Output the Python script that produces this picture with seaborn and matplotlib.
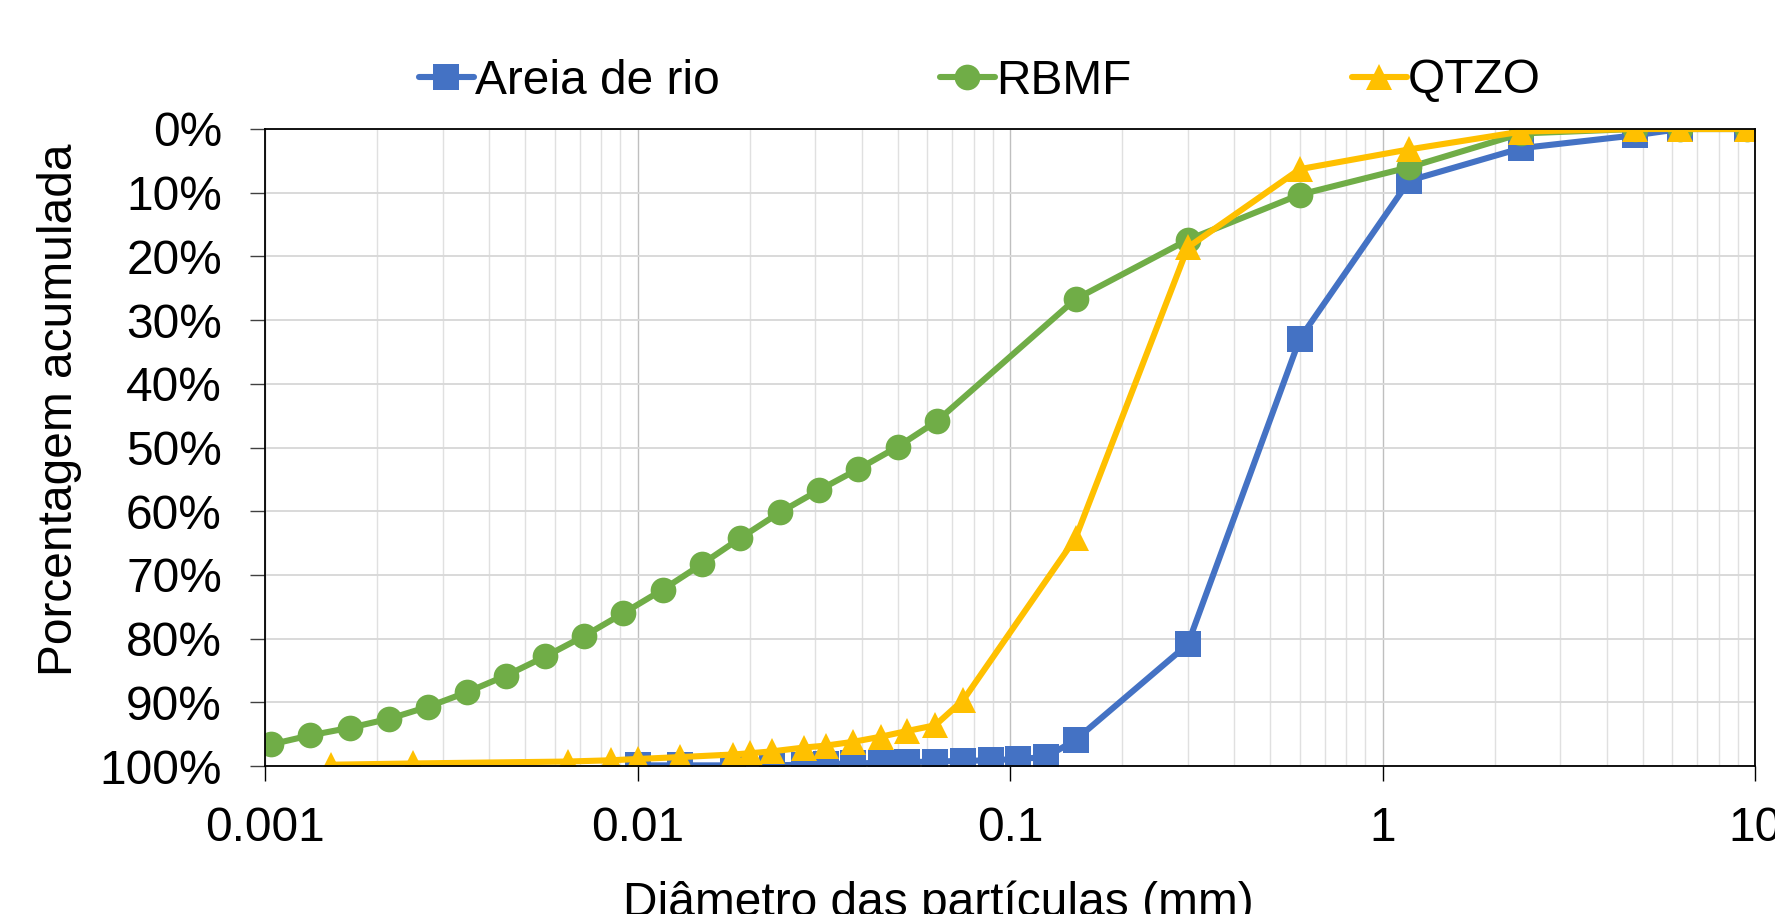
"""
Curva granulométrica: porcentagem acumulada x diâmetro das partículas
"""

import numpy as np
import pandas as pd
import matplotlib
matplotlib.use('Agg')
import matplotlib.pyplot as plt
import seaborn as sns
from matplotlib.ticker import FixedLocator, FixedFormatter, PercentFormatter

# diâmetros (mm) e porcentagem acumulada (%) de cada material
areia_d = [0.01, 0.013, 0.018, 0.023, 0.028, 0.032, 0.038, 0.045, 0.053, 0.063,
           0.075, 0.089, 0.105, 0.125, 0.15, 0.3, 0.6, 1.18, 2.36, 4.75, 6.3, 9.5]
areia_p = [99.9, 99.9, 99.9, 99.9, 99.8, 99.7, 99.6, 99.5, 99.4, 99.3,
           99.2, 99.1, 98.9, 98.6, 95.9, 80.9, 32.9, 8.1, 3.0, 1.0, 0.0, 0.0]

rbmf_d = [0.00104, 0.00132, 0.00169, 0.00215, 0.00274, 0.00349, 0.00444, 0.00566,
          0.00719, 0.00917, 0.0117, 0.0149, 0.0189, 0.0241, 0.0307, 0.0391, 0.0499,
          0.0635, 0.15, 0.3, 0.6, 1.18, 2.36, 4.75, 6.3, 9.5]
rbmf_p = [96.6, 95.2, 94.0, 92.6, 90.7, 88.4, 85.8, 82.8,
          79.6, 76.0, 72.3, 68.3, 64.2, 60.2, 56.7, 53.4, 49.9,
          45.9, 26.7, 17.4, 10.3, 6.0, 0.7, 0.0, 0.0, 0.0]

qtzo_d = [0.0015, 0.0025, 0.0065, 0.0085, 0.01, 0.013, 0.018, 0.02, 0.023, 0.028,
          0.032, 0.038, 0.045, 0.053, 0.063, 0.075, 0.15, 0.3, 0.6, 1.18, 2.36,
          4.75, 6.3, 9.5]
qtzo_p = [99.8, 99.6, 99.3, 99.1, 98.9, 98.6, 98.2, 98.0, 97.7, 97.1,
          96.8, 96.2, 95.4, 94.5, 93.6, 89.6, 64.2, 18.6, 6.3, 3.2, 0.4,
          0.0, 0.0, 0.0]

x_ticks = [0.001, 0.01, 0.1, 1, 10]
x_tick_labels = ['0.001', '0.01', '0.1', '1', '10']

series = [
    ('Areia de rio', areia_d, areia_p, '#4472C4', 's'),
    ('RBMF', rbmf_d, rbmf_p, '#70AD47', 'o'),
    ('QTZO', qtzo_d, qtzo_p, '#FFC000', '^'),
]

sns.set_style('white')
plt.rcParams['font.family'] = ['Liberation Sans', 'DejaVu Sans']
plt.rcParams['text.color'] = 'black'
plt.rcParams['axes.labelcolor'] = 'black'
plt.rcParams['xtick.color'] = 'black'
plt.rcParams['ytick.color'] = 'black'
FS = 34.5

fig = plt.figure(figsize=(17.75, 9.14), dpi=100)
ax = fig.add_axes([265 / 1775, 1 - 766 / 914, 1490 / 1775, 637 / 914])

for name, d, p, cor, mk in series:
    df = pd.DataFrame({'d': d, 'p': np.array(p) / 100})
    sns.lineplot(data=df, x='d', y='p', ax=ax, color=cor, marker=mk,
                 markersize=18.5, markeredgecolor=cor, markeredgewidth=0,
                 linewidth=4.4, label=name, errorbar=None, sort=False)

ax.set_xscale('log')
ax.set_xlim(0.001, 10)
ax.set_ylim(1, 0)

ax.xaxis.set_major_locator(FixedLocator(x_ticks))
ax.xaxis.set_major_formatter(FixedFormatter(x_tick_labels))
ax.xaxis.set_minor_locator(FixedLocator(
    [m * 10.0 ** e for e in range(-3, 1) for m in range(2, 10)]))
ax.yaxis.set_major_locator(FixedLocator(np.linspace(0, 1, 11)))
ax.yaxis.set_major_formatter(PercentFormatter(1, decimals=0))

ax.grid(which='minor', axis='x', color='#e0e0e0', linewidth=1.0)
ax.grid(which='major', axis='x', color='#bfbfbf', linewidth=1.0)
ax.grid(which='major', axis='y', color='#d9d9d9', linewidth=1.4)
ax.set_axisbelow(True)

for s in ax.spines.values():
    s.set_visible(True)
    s.set_color('black')
    s.set_linewidth(1.3)

ax.tick_params(axis='x', which='major', direction='out', length=11, width=1,
               color='black', labelsize=FS, pad=18, bottom=True)
ax.tick_params(axis='x', which='minor', length=0)
ax.tick_params(axis='y', direction='out', length=11, width=1, color='#404040',
               labelsize=FS, pad=20, left=True)

ax.set_xlabel('Diâmetro das partículas (mm)', fontsize=FS)
ax.xaxis.set_label_coords(0.452, -0.18)
ax.set_ylabel('Porcentagem acumulada', fontsize=FS)
ax.yaxis.set_label_coords(-0.1228, 0.56)

ax.legend(loc='center', bbox_to_anchor=(979.5 / 1775, 1 - 81 / 914),
          bbox_transform=fig.transFigure, ncol=3, frameon=False, fontsize=FS,
          handlelength=1.15, handletextpad=0.02, columnspacing=4.6,
          borderpad=0, borderaxespad=0)

fig.savefig('out.png', dpi=100)
plt.close(fig)
